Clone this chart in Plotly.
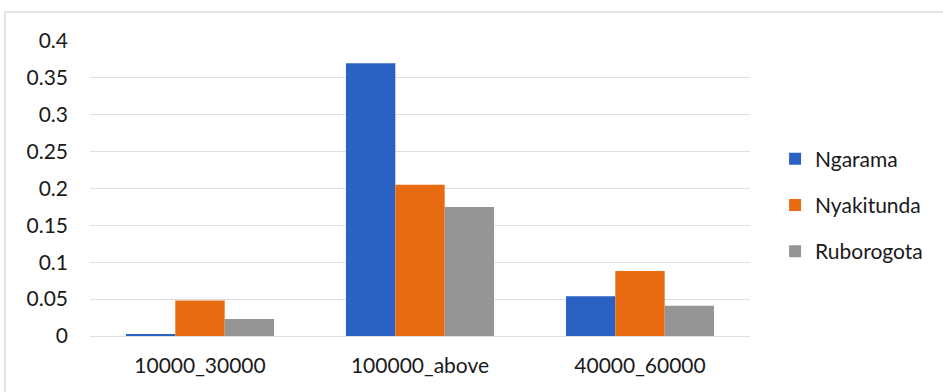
import plotly.graph_objects as go

# Income brackets and the share of households in each, per area
categories = ["10000_30000", "100000_above", "40000_60000"]
ngarama = [0.002, 0.370, 0.054]
nyakitunda = [0.048, 0.205, 0.088]
ruborogota = [0.023, 0.175, 0.041]
y_ticks = [0, 0.05, 0.1, 0.15, 0.2, 0.25, 0.3, 0.35, 0.4]
y_tick_text = ["0", "0.05", "0.1", "0.15", "0.2", "0.25", "0.3", "0.35", "0.4"]

series = [
    ("Ngarama", ngarama, "#2A61C2"),
    ("Nyakitunda", nyakitunda, "#E86B12"),
    ("Ruborogota", ruborogota, "#959595"),
]

FONT = "Lato, 'Liberation Sans', Arial, sans-serif"

fig = go.Figure()
for name, vals, color in series:
    fig.add_trace(go.Bar(
        name=name,
        x=categories,
        y=vals,
        legendgroup=name,
        marker=dict(color=color, line=dict(width=0)),
    ))

fig.update_layout(
    width=943,
    height=392,
    margin=dict(l=90, r=193, t=41, b=56),
    paper_bgcolor="white",
    plot_bgcolor="white",
    barmode="group",
    bargap=0.327,
    bargroupgap=0,
    font=dict(family=FONT, size=21, color="#1a1a1a"),
    legend=dict(
        x=1.038, y=0.444, xanchor="left", yanchor="middle",
        font=dict(family=FONT, size=21, color="#1a1a1a"),
        tracegroupgap=16,
        bgcolor="rgba(0,0,0,0)",
    ),
    xaxis=dict(
        showgrid=False,
        showline=False,
        ticks="",
        ticklabelstandoff=15,
        tickfont=dict(family=FONT, size=21, color="#1a1a1a"),
    ),
    yaxis=dict(
        range=[0, 0.4],
        tickvals=y_ticks,
        ticktext=y_tick_text,
        showgrid=True,
        gridcolor="#DCDFE3",
        gridwidth=1,
        zeroline=True,
        zerolinecolor="#DCDFE3",
        zerolinewidth=1,
        showline=False,
        ticks="",
        ticklabelstandoff=21,
        tickfont=dict(family=FONT, size=21, color="#1a1a1a"),
    ),
    shapes=[
        dict(
            type="rect", xref="paper", yref="paper",
            x0=-0.1288, x1=1.4, y0=-0.4, y1=1.098,
            line=dict(color="#D9DCE0", width=1.5),
            fillcolor="rgba(0,0,0,0)",
            layer="below",
        )
    ],
)

fig.write_html("out.html")
